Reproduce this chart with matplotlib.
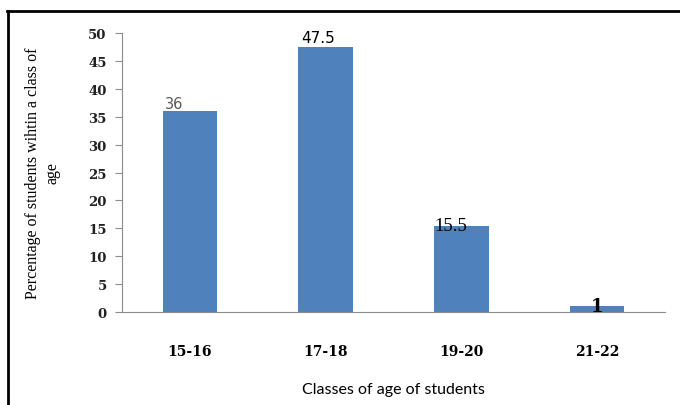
import matplotlib.pyplot as plt
from matplotlib.lines import Line2D

classes = ['15-16', '17-18', '19-20', '21-22']
percent = [36, 47.5, 15.5, 1]
label_text = ['36', '47.5', '15.5', '1']

fig = plt.figure(figsize=(6.8, 4.06), dpi=100)
ax = fig.add_axes([0.1794, 0.229, 0.7986, 0.687])

bars = ax.bar(range(len(classes)), percent, width=0.4, color='#4F81BD')

ax.set_xlim(-0.5, 3.5)
ax.set_ylim(0, 50)
ax.set_yticks(range(0, 51, 5))
ax.set_xticks(range(len(classes)))
ax.set_xticklabels(classes, family='DejaVu Serif', fontweight='semibold', fontsize=10)
for t in ax.get_yticklabels():
    t.set_family('DejaVu Serif')
    t.set_fontweight('semibold')
    t.set_fontsize(9.5)
    t.set_color('#222222')

for s in ['top', 'right']:
    ax.spines[s].set_visible(False)
ax.spines['left'].set_color('#8c8c8c')
ax.spines['bottom'].set_color('#8c8c8c')
ax.tick_params(axis='y', length=5, color='#8c8c8c', pad=6)
ax.tick_params(axis='x', length=0, pad=23)

# value labels, each styled a little differently
b = bars.patches
ax.text(b[0].get_x() + 0.02, percent[0], label_text[0], ha='left', va='bottom',
        fontsize=10.5, color='#595959', family='DejaVu Sans')
ax.text(b[1].get_x() + 0.02, percent[1] + 0.3, label_text[1], ha='left', va='bottom',
        fontsize=11, color='black', family='DejaVu Sans')
ax.text(b[2].get_x() + 0.0, percent[2], label_text[2], ha='left', va='center',
        fontsize=13.5, color='black', family='Liberation Serif')
ax.text(b[3].get_x() + b[3].get_width() / 2, percent[3], label_text[3], ha='center', va='center',
        fontsize=13, color='black', family='DejaVu Serif', fontweight='bold')

ax.set_xlabel('Classes of age of students', family='Lato', fontsize=11.5)
ax.xaxis.set_label_coords(0.5, -0.25)
fig.text(0.063, 0.574, 'Percentage of students wihtin a class of\nage', rotation=90,
         ha='center', va='center', family='Liberation Serif', fontsize=11.5,
         multialignment='center', linespacing=1.25)

# frame along the top and left edges
fig.add_artist(Line2D([0.011, 1.0], [0.971, 0.971], transform=fig.transFigure,
                      color='black', linewidth=2))
fig.add_artist(Line2D([0.0118, 0.0118], [0.0, 0.971], transform=fig.transFigure,
                      color='black', linewidth=2))

fig.savefig('out.png', dpi=100)
